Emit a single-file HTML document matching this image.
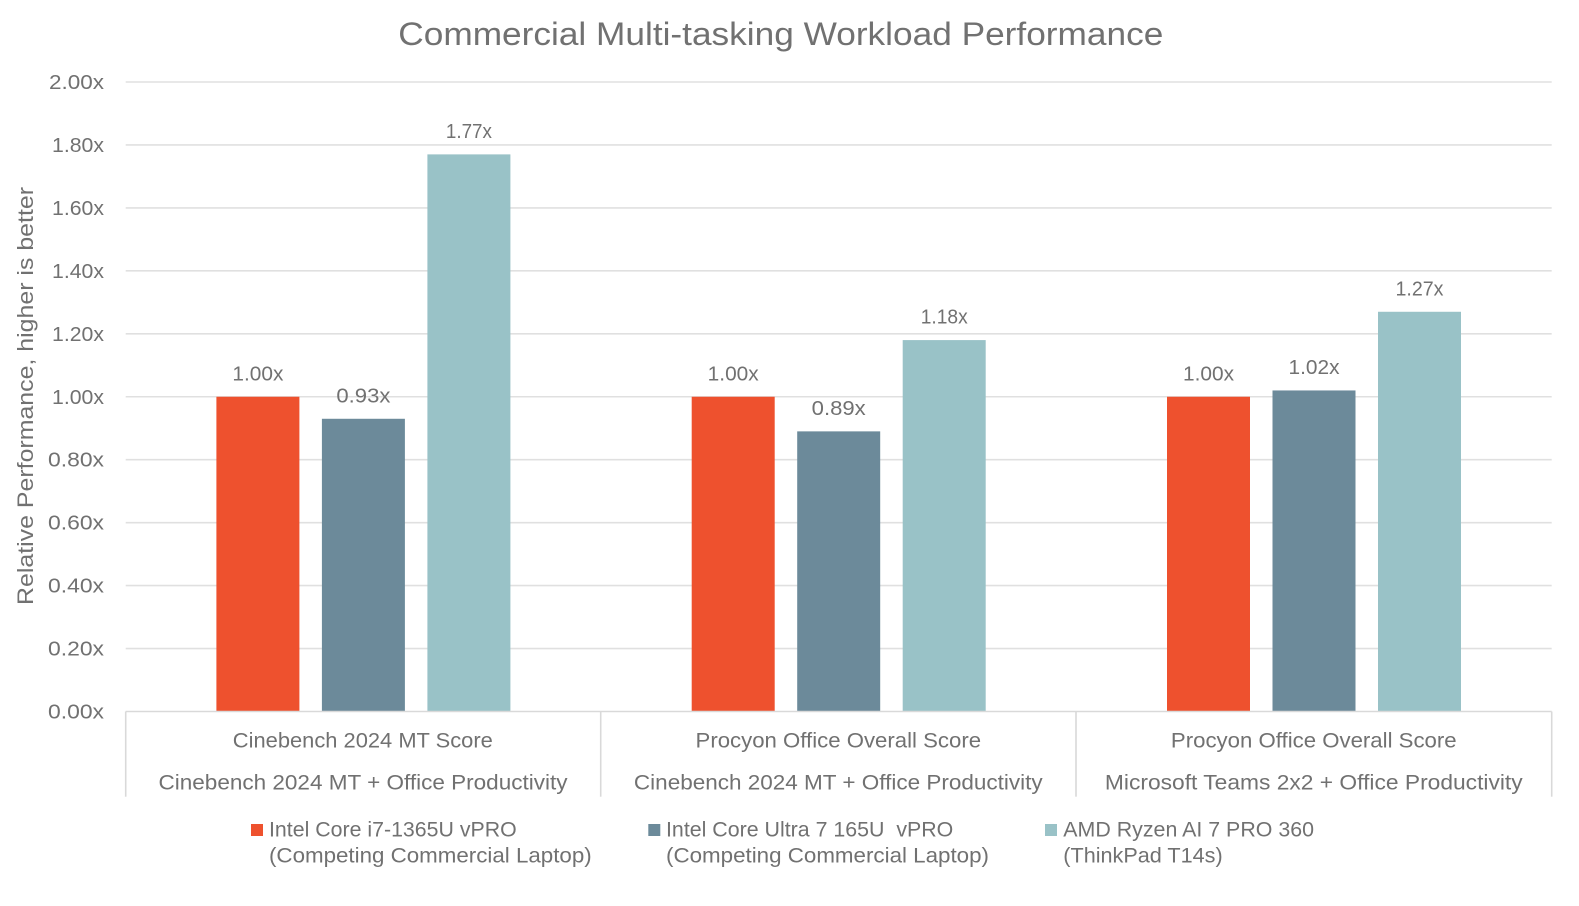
<!DOCTYPE html>
<html>
<head>
<meta charset="utf-8">
<style>
  html, body { margin: 0; padding: 0; background: #ffffff; }
  svg { display: block; }
  text { font-family: "Liberation Sans", "DejaVu Sans", sans-serif; fill: #717171; }
</style>
</head>
<body>
<svg width="1579" height="906" viewBox="0 0 1579 906" xmlns="http://www.w3.org/2000/svg">
  <rect x="0" y="0" width="1579" height="906" fill="#ffffff"/>

  <!-- Title -->
  <text x="780.8" y="45" font-size="32" text-anchor="middle" textLength="765" lengthAdjust="spacingAndGlyphs">Commercial Multi-tasking Workload Performance</text>

  <!-- Gridlines -->
  <g stroke="#e0e0e0" stroke-width="1.6">
    <line x1="125.7" x2="1551.7" y1="82" y2="82"/>
    <line x1="125.7" x2="1551.7" y1="144.95" y2="144.95"/>
    <line x1="125.7" x2="1551.7" y1="207.9" y2="207.9"/>
    <line x1="125.7" x2="1551.7" y1="270.85" y2="270.85"/>
    <line x1="125.7" x2="1551.7" y1="333.8" y2="333.8"/>
    <line x1="125.7" x2="1551.7" y1="396.75" y2="396.75"/>
    <line x1="125.7" x2="1551.7" y1="459.7" y2="459.7"/>
    <line x1="125.7" x2="1551.7" y1="522.65" y2="522.65"/>
    <line x1="125.7" x2="1551.7" y1="585.6" y2="585.6"/>
    <line x1="125.7" x2="1551.7" y1="648.55" y2="648.55"/>
  </g>

  <!-- Y tick labels -->
  <g font-size="20" text-anchor="end">
    <text x="104" y="89" textLength="55" lengthAdjust="spacingAndGlyphs">2.00x</text>
    <text x="104" y="151.95" textLength="52" lengthAdjust="spacingAndGlyphs">1.80x</text>
    <text x="104" y="214.9" textLength="52" lengthAdjust="spacingAndGlyphs">1.60x</text>
    <text x="104" y="277.85" textLength="52" lengthAdjust="spacingAndGlyphs">1.40x</text>
    <text x="104" y="340.8" textLength="52" lengthAdjust="spacingAndGlyphs">1.20x</text>
    <text x="104" y="403.75" textLength="52" lengthAdjust="spacingAndGlyphs">1.00x</text>
    <text x="104" y="466.7" textLength="56" lengthAdjust="spacingAndGlyphs">0.80x</text>
    <text x="104" y="529.65" textLength="56" lengthAdjust="spacingAndGlyphs">0.60x</text>
    <text x="104" y="592.6" textLength="56" lengthAdjust="spacingAndGlyphs">0.40x</text>
    <text x="104" y="655.55" textLength="56" lengthAdjust="spacingAndGlyphs">0.20x</text>
    <text x="104" y="718.5" textLength="56" lengthAdjust="spacingAndGlyphs">0.00x</text>
  </g>

  <!-- Y axis title -->
  <text transform="translate(33,396) rotate(-90)" font-size="22" text-anchor="middle" textLength="418" lengthAdjust="spacingAndGlyphs">Relative Performance, higher is better</text>

  <!-- Bars group 1 -->
  <rect x="216.4" y="396.75" width="83" height="314.75" fill="#EE512E"/>
  <rect x="321.9" y="418.78" width="83" height="292.72" fill="#6C8A9A"/>
  <rect x="427.4" y="154.38" width="83" height="557.12" fill="#99C2C7"/>
  <!-- Bars group 2 -->
  <rect x="691.7" y="396.75" width="83" height="314.75" fill="#EE512E"/>
  <rect x="797.2" y="431.37" width="83" height="280.13" fill="#6C8A9A"/>
  <rect x="902.7" y="340.09" width="83" height="371.41" fill="#99C2C7"/>
  <!-- Bars group 3 -->
  <rect x="1167.0" y="396.75" width="83" height="314.75" fill="#EE512E"/>
  <rect x="1272.5" y="390.45" width="83" height="321.05" fill="#6C8A9A"/>
  <rect x="1378.0" y="311.77" width="83" height="399.73" fill="#99C2C7"/>

  <!-- Data labels -->
  <g font-size="20" text-anchor="middle">
    <text x="257.9" y="380.25" textLength="51" lengthAdjust="spacingAndGlyphs">1.00x</text>
    <text x="363.4" y="402.28" textLength="54" lengthAdjust="spacingAndGlyphs">0.93x</text>
    <text x="468.9" y="137.88" textLength="46" lengthAdjust="spacingAndGlyphs">1.77x</text>
    <text x="733.2" y="380.25" textLength="51" lengthAdjust="spacingAndGlyphs">1.00x</text>
    <text x="838.7" y="414.87" textLength="54" lengthAdjust="spacingAndGlyphs">0.89x</text>
    <text x="944.2" y="323.59" textLength="47" lengthAdjust="spacingAndGlyphs">1.18x</text>
    <text x="1208.5" y="380.25" textLength="51" lengthAdjust="spacingAndGlyphs">1.00x</text>
    <text x="1314.0" y="373.95" textLength="51" lengthAdjust="spacingAndGlyphs">1.02x</text>
    <text x="1419.5" y="295.27" textLength="48" lengthAdjust="spacingAndGlyphs">1.27x</text>
  </g>

  <!-- X axis line and category separators -->
  <g stroke="#d9d9d9" stroke-width="1.6">
    <line x1="125.7" x2="1551.7" y1="711.5" y2="711.5"/>
    <line x1="125.7" x2="125.7" y1="711.5" y2="796.7"/>
    <line x1="600.7" x2="600.7" y1="711.5" y2="796.7"/>
    <line x1="1076" x2="1076" y1="711.5" y2="796.7"/>
    <line x1="1551.7" x2="1551.7" y1="711.5" y2="796.7"/>
  </g>

  <!-- Category labels -->
  <g font-size="21" text-anchor="middle">
    <text x="362.8" y="747.5" textLength="260" lengthAdjust="spacingAndGlyphs">Cinebench 2024 MT Score</text>
    <text x="363" y="789.5" textLength="409" lengthAdjust="spacingAndGlyphs">Cinebench 2024 MT + Office Productivity</text>
    <text x="838.3" y="747.5" textLength="285.5" lengthAdjust="spacingAndGlyphs">Procyon Office Overall Score</text>
    <text x="838.3" y="789.5" textLength="408.7" lengthAdjust="spacingAndGlyphs">Cinebench 2024 MT + Office Productivity</text>
    <text x="1313.8" y="747.5" textLength="285.7" lengthAdjust="spacingAndGlyphs">Procyon Office Overall Score</text>
    <text x="1313.8" y="789.5" textLength="417.7" lengthAdjust="spacingAndGlyphs">Microsoft Teams 2x2 + Office Productivity</text>
  </g>

  <!-- Legend -->
  <rect x="251" y="824" width="12" height="12" fill="#EE512E"/>
  <text x="269" y="836.5" font-size="21" textLength="247.7" lengthAdjust="spacingAndGlyphs">Intel Core i7-1365U vPRO</text>
  <text x="269" y="862.5" font-size="21" textLength="322.7" lengthAdjust="spacingAndGlyphs">(Competing Commercial Laptop)</text>

  <rect x="648.3" y="824" width="12" height="12" fill="#6C8A9A"/>
  <text x="666" y="836.5" font-size="21" textLength="287.3" lengthAdjust="spacingAndGlyphs" xml:space="preserve">Intel Core Ultra 7 165U  vPRO</text>
  <text x="666" y="862.5" font-size="21" textLength="323" lengthAdjust="spacingAndGlyphs">(Competing Commercial Laptop)</text>

  <rect x="1045" y="824" width="12" height="12" fill="#99C2C7"/>
  <text x="1063.3" y="836.5" font-size="21" textLength="250.7" lengthAdjust="spacingAndGlyphs">AMD Ryzen AI 7 PRO 360</text>
  <text x="1063.3" y="862.5" font-size="21" textLength="159.4" lengthAdjust="spacingAndGlyphs">(ThinkPad T14s)</text>
</svg>
</body>
</html>
